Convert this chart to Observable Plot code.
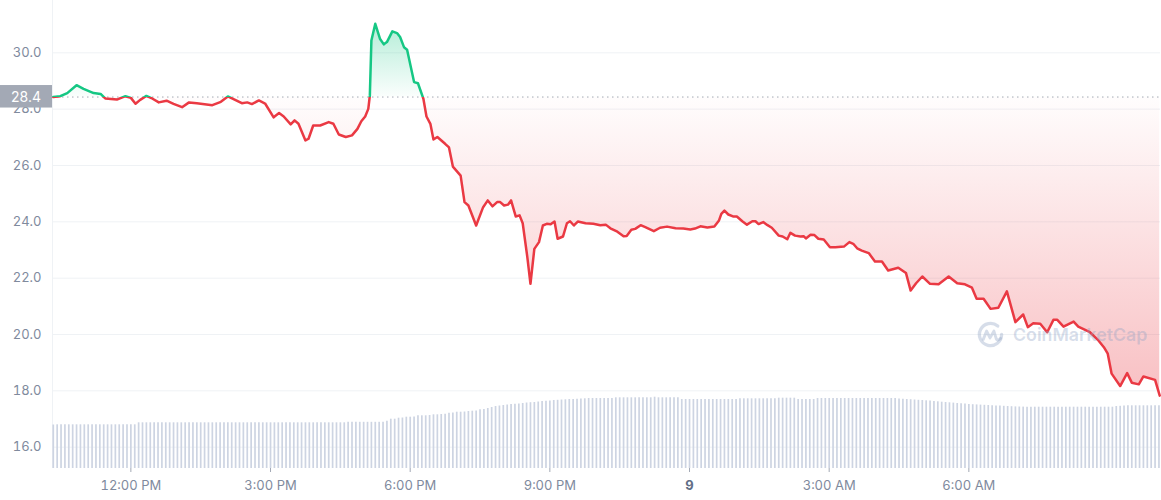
<!DOCTYPE html>
<html><head><meta charset="utf-8">
<script src="https://cdn.jsdelivr.net/npm/d3@7"></script>
<script src="https://cdn.jsdelivr.net/npm/@observablehq/plot@0.6"></script>
<style>
html,body{margin:0;padding:0;background:#fff;}
#wrap{position:relative;width:1161px;height:500px;overflow:hidden;font-family:Inter, "Noto Sans", sans-serif;}
#wrap > svg{position:absolute;left:0;top:0;}
#wm{position:absolute;left:976px;top:320px;display:flex;align-items:center;gap:8px;pointer-events:none;color:rgba(140,160,195,0.36);font:600 17.8px Inter, sans-serif;white-space:nowrap;}
#wm svg{position:static;}
</style></head><body>
<div id="wrap"></div>
<script>
// ---- data ----
const BASE_PRICE = 28.43;
const minutes = [620,629,638,650,659,672,681,687,702,713,
720,726,732,740,748,756,766,775,786,795,
805,825,836,845,853,863,870,876,885,893,
904,911,917,926,931,936,945,949,955,964,
975,981,988,997,1005,1012,1017,1022,1026,1028,
1030,1035,1041,1046,1050,1057,1063,1067,1072,1076,
1085,1090,1097,1101,1106,1110,1115,1125,1130,1135,
1145,1150,1155,1165,1174,1180,1186,1192,1196,1201,
1206,1210,1216,1221,1225,1231,1235,1240,1246,1251,
1256,1261,1266,1270,1277,1282,1286,1291,1296,1306,
1316,1325,1332,1338,1347,1355,1359,1365,1370,1377,
1383,1394,1402,1411,1422,1432,1441,1447,1454,1463,
1472,1478,1481,1485,1490,1496,1501,1508,1514,1521,
1525,1529,1535,1540,1546,1555,1560,1566,1570,1576,
1583,1587,1590,1596,1601,1606,1613,1621,1628,1639,
1646,1651,1656,1662,1671,1679,1688,1696,1709,1719,
1725,1732,1740,1750,1761,1774,1785,1795,1804,1810,
1819,1828,1838,1849,1860,1870,1876,1883,1892,1901,
1909,1914,1922,1935,1941,1956,1967,1974,1979,1984,
1995,2004,2010,2019,2025,2040,2046];
const prices = [28.43,28.46,28.57,28.85,28.72,28.57,28.54,28.38,28.34,28.46,
28.40,28.19,28.33,28.47,28.37,28.24,28.30,28.19,28.07,28.24,
28.21,28.14,28.26,28.45,28.35,28.21,28.24,28.18,28.31,28.20,
27.71,27.86,27.74,27.46,27.60,27.48,26.89,26.95,27.42,27.42,
27.54,27.48,27.10,27.01,27.07,27.30,27.57,27.74,28.01,28.48,
30.44,31.03,30.50,30.30,30.38,30.76,30.70,30.56,30.20,30.11,
28.96,28.92,28.37,27.74,27.48,26.92,27.01,26.77,26.64,25.96,
25.64,24.70,24.58,23.87,24.52,24.76,24.55,24.70,24.70,24.58,
24.61,24.76,24.19,24.23,23.95,22.74,21.80,23.04,23.28,23.87,
23.93,23.91,24.01,23.40,23.48,23.95,24.02,23.87,24.01,23.95,
23.93,23.88,23.90,23.77,23.65,23.49,23.50,23.72,23.75,23.88,
23.81,23.67,23.79,23.83,23.77,23.76,23.73,23.76,23.84,23.80,
23.83,24.05,24.28,24.40,24.26,24.19,24.19,24.02,23.90,24.02,
24.02,23.92,23.99,23.89,23.79,23.51,23.48,23.38,23.61,23.51,
23.48,23.49,23.41,23.54,23.53,23.40,23.37,23.10,23.10,23.12,
23.28,23.22,23.06,22.98,22.89,22.59,22.59,22.27,22.37,22.18,
21.56,21.82,22.06,21.80,21.78,22.06,21.82,21.78,21.66,21.27,
21.27,20.91,20.95,21.53,20.44,20.71,20.26,20.40,20.38,20.08,
20.52,20.52,20.28,20.46,20.28,20.08,19.79,19.55,19.32,18.61,
18.17,18.63,18.29,18.23,18.51,18.39,17.83];
const volumeStartMinute = 620;
const volumeStepMinutes = 5;
const volumes = [
4.35,4.37,4.37,4.37,4.37,4.37,4.37,4.37,4.37,4.37,4.37,4.37,4.37,4.37,4.37,4.37,4.37,4.37,4.37,4.37,4.37,4.37,
4.57,4.57,4.57,4.57,4.57,4.57,4.57,4.57,4.57,4.57,4.57,4.57,4.57,4.57,4.57,4.57,4.57,4.57,4.57,4.57,4.57,4.57,4.57,4.57,4.57,
4.57,4.57,4.57,4.57,4.57,4.57,4.57,4.57,4.57,4.57,4.57,4.57,4.57,4.57,4.57,4.57,4.57,4.57,4.57,4.57,4.57,4.57,4.57,4.57,4.57,4.57,4.57,4.57,4.57,
4.62,4.62,4.62,4.62,4.62,4.62,4.62,4.62,4.62,4.62,4.73,
4.93,4.93,5.03,5.05,5.13,5.13,5.15,5.27,5.27,5.27,5.30,5.37,5.37,5.40,5.43,5.53,5.55,5.63,5.63,5.65,5.70,5.73,5.75,5.87,5.90,
6.00,6.10,6.20,6.25,6.30,6.35,6.40,6.42,6.45,6.50,6.55,6.58,6.60,6.65,6.70,6.72,6.75,6.80,6.82,6.85,6.87,6.90,6.90,6.93,6.95,6.97,
7.00,7.00,7.00,7.00,7.00,7.00,7.00,
7.07,7.07,7.07,7.07,7.07,7.07,7.07,7.07,7.07,7.07,7.13,7.07,7.07,7.07,7.07,7.07,7.07,
6.90,6.90,6.90,6.90,6.90,6.90,6.90,6.90,6.90,6.90,6.90,6.90,6.90,6.90,6.90,
6.97,6.97,6.97,6.97,6.97,6.97,6.97,6.97,6.97,6.97,
7.03,7.03,7.03,7.03,7.03,
6.90,6.90,6.90,6.90,6.90,
7.00,7.00,7.00,7.00,7.00,7.00,7.00,7.00,7.00,7.00,7.00,7.00,7.00,7.00,7.00,7.00,7.00,7.00,7.00,7.00,7.00,
6.95,6.93,6.90,6.88,6.85,6.82,6.80,6.77,6.74,6.70,6.67,
6.63,6.60,6.57,6.54,6.50,6.47,6.44,6.41,6.38,6.36,6.34,
6.32,6.30,6.28,6.26,6.24,6.22,6.20,
6.18,6.16,6.15,6.14,6.13,6.13,6.13,6.13,6.13,6.13,6.13,6.13,6.13,6.13,6.13,6.13,6.13,6.13,6.13,6.13,6.13,6.13,6.13,6.13,6.13,6.13,6.13,
6.20,6.22,6.25,6.27,6.27,6.27,6.27,6.27,6.27,6.27,6.27,6.27,6.27,6.27,6.27,6.27,6.27];
const yTicks = [16, 18, 20, 22, 24, 26, 28, 30];
const xTickMinutes = [720, 900, 1080, 1260, 1440, 1620, 1800];
const domainMinutes = [619, 2047];
const priceDomain = [15.243, 31.857];
const volumeDomain = [0, 46.8];

// ---- build ----
const toDate = m => new Date(2023, 0, 8, 0, m);
const n = Math.min(minutes.length, prices.length);
const priceData = d3.range(n).map(i => ({date: toDate(minutes[i]), price: prices[i]}));
const volData = volumes.map((v, i) => ({date: toDate(volumeStartMinute + i * volumeStepMinutes), vol: v}));
const fmt = d => d.getHours() === 0 ? String(d.getDate())
  : `${(d.getHours() % 12) || 12}:00 ${d.getHours() < 12 ? "AM" : "PM"}`;

const W = 1161, H = 500, ML = 52, MR = 1, MT = 0, MB = 32;
const UP = "#16c784", DOWN = "#ea3943";

const main = Plot.plot({
  width: W, height: H, marginLeft: ML, marginRight: MR, marginTop: MT, marginBottom: MB,
  style: {fontFamily: "Inter, sans-serif", fontSize: "13px", background: "transparent", overflow: "visible"},
  x: {type: "time", domain: domainMinutes.map(toDate)},
  y: {domain: priceDomain},
  marks: [
    Plot.gridY(yTicks, {stroke: "#eff2f5", strokeOpacity: 1}),
    Plot.ruleX([toDate(domainMinutes[0])], {stroke: "#eff2f5"}),
    Plot.areaY(priceData, {x: "date", y1: BASE_PRICE, y2: "price", fill: "url(#grad-up)"}),
    Plot.areaY(priceData, {x: "date", y1: BASE_PRICE, y2: "price", fill: "url(#grad-down)"}),
    Plot.ruleY([BASE_PRICE], {stroke: "#a3a9b5", strokeDasharray: "1.5,3.5"}),
    Plot.lineY(priceData, {x: "date", y: "price", stroke: UP, strokeWidth: 2.5}),
    Plot.lineY(priceData, {x: "date", y: "price", stroke: DOWN, strokeWidth: 2.5}),
    Plot.axisY(yTicks, {tickSize: 0, tickPadding: 11, tickFormat: d => d.toFixed(1), fill: "#808a9d", fontSize: 13, label: null}),
    Plot.axisX(xTickMinutes.map(toDate), {tickSize: 4, tickPadding: 8, tickFormat: fmt, stroke: "#a3a9b5", fill: "#808a9d", fontSize: 13, label: null})
  ]
});

const ys = main.scale("y");
const yb = ys.apply(BASE_PRICE);
const svg = d3.select(main);
const defs = svg.insert("defs", ":first-child");
defs.append("clipPath").attr("id", "clip-up").append("rect")
  .attr("x", 0).attr("y", -20).attr("width", W).attr("height", yb + 20);
defs.append("clipPath").attr("id", "clip-down").append("rect")
  .attr("x", 0).attr("y", yb).attr("width", W).attr("height", H - yb);
const gu = defs.append("linearGradient").attr("id", "grad-up").attr("gradientUnits", "userSpaceOnUse")
  .attr("x1", 0).attr("x2", 0).attr("y1", ys.apply(31.0)).attr("y2", yb);
gu.append("stop").attr("offset", 0).attr("stop-color", UP).attr("stop-opacity", 0.32);
gu.append("stop").attr("offset", 1).attr("stop-color", UP).attr("stop-opacity", 0.02);
const gd = defs.append("linearGradient").attr("id", "grad-down").attr("gradientUnits", "userSpaceOnUse")
  .attr("x1", 0).attr("x2", 0).attr("y1", yb).attr("y2", ys.apply(17.5));
gd.append("stop").attr("offset", 0).attr("stop-color", DOWN).attr("stop-opacity", 0.01);
gd.append("stop").attr("offset", 1).attr("stop-color", DOWN).attr("stop-opacity", 0.33);
const areas = main.querySelectorAll('g[aria-label="area"]');
const lines = main.querySelectorAll('g[aria-label="line"]');
if (areas.length >= 2) { areas[0].setAttribute("clip-path", "url(#clip-up)"); areas[1].setAttribute("clip-path", "url(#clip-down)"); }
if (lines.length >= 2) { lines[0].setAttribute("clip-path", "url(#clip-up)"); lines[1].setAttribute("clip-path", "url(#clip-down)"); }
lines.forEach(g => { g.setAttribute("stroke-linejoin", "round"); g.setAttribute("stroke-linecap", "round"); });
svg.selectAll("text").filter(function () { return this.textContent === "9"; })
  .attr("font-weight", 700).attr("fill", "#616e85");
// price label box
svg.append("rect").attr("x", 0).attr("y", yb - 11.5).attr("width", ML).attr("height", 22.5).attr("fill", "#a3a9b5");
svg.append("text").attr("x", ML / 2).attr("y", yb).attr("dy", "0.36em").attr("text-anchor", "middle")
  .attr("fill", "#fff").attr("font-size", 14).attr("font-family", "Inter, sans-serif").text(BASE_PRICE.toFixed(1));

const vol = Plot.plot({
  width: W, height: H, marginLeft: ML, marginRight: MR, marginTop: MT, marginBottom: MB,
  style: {background: "transparent"},
  x: {type: "time", domain: domainMinutes.map(toDate), axis: null},
  y: {domain: volumeDomain, axis: null},
  marks: [
    Plot.ruleX(volData, {x: "date", y1: 0, y2: "vol", stroke: "#cdd4e2", strokeWidth: 1.7})
  ]
});

const wrap = document.getElementById("wrap");
wrap.appendChild(main);
wrap.appendChild(vol);
const wm = document.createElement("div");
wm.id = "wm";
wm.innerHTML = `<svg width="29" height="29" viewBox="0 0 30 30"><path d="M26.5 15a11.5 11.5 0 1 1 -4 -8.7" fill="none" stroke="currentColor" stroke-width="3.4" stroke-linecap="round"/><path d="M7.5 20 L11 11.5 L14.5 18.5 L18.5 11.5 L21 19.5 Q22 22 25.5 19" fill="none" stroke="currentColor" stroke-width="3" stroke-linejoin="round" stroke-linecap="round"/></svg><span>CoinMarketCap</span>`;
wrap.appendChild(wm);
</script>
</body></html>
